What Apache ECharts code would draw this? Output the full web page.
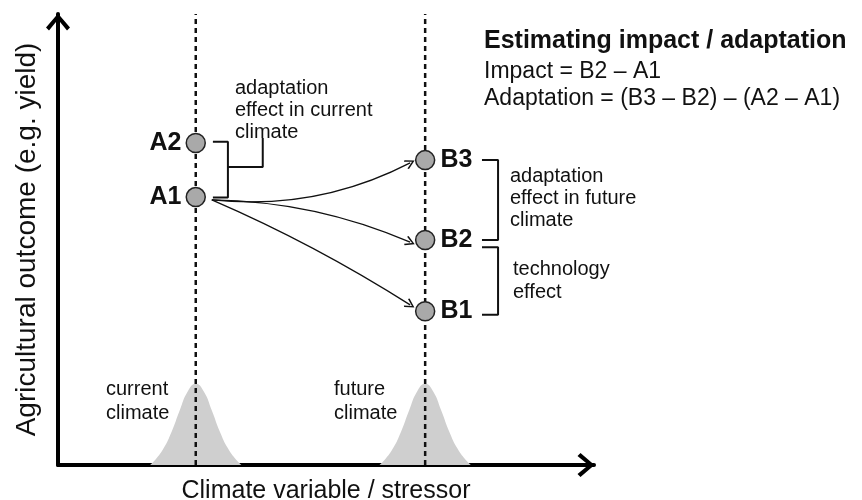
<!DOCTYPE html>
<html>
<head>
<meta charset="utf-8">
<script src="https://cdn.jsdelivr.net/npm/echarts@6/dist/echarts.min.js"></script>
<style>
  html, body { margin: 0; padding: 0; background: #fff; }
  #chart { width: 862px; height: 500px; }
</style>
</head>
<body>
<div id="chart"></div>
<script>
var FONT = '"Liberation Sans", Arial, Helvetica, sans-serif';

// where the two climates sit on the x axis
var climateX = [2.57, 6.85];

// outcome points
var pointNames = ['A2', 'A1', 'B3', 'B2', 'B1'];
var pointX = [2.57, 2.57, 6.85, 6.85, 6.85];
var pointY = [7.14, 5.94, 6.76, 4.99, 3.41];

// climate distribution (offset from centre, height)
var humpOffset = [-0.85, -0.75, -0.6, -0.45, -0.3, -0.15, 0, 0.15, 0.3, 0.45, 0.6, 0.75, 0.85];
var humpHeight = [0, 0.12, 0.37, 0.74, 1.21, 1.63, 1.8, 1.63, 1.21, 0.74, 0.37, 0.12, 0];

// arrows A1 -> B3, B2, B1
var arrowStart = [2.87, 5.88];
var arrowEnds = [[6.57, 6.70], [6.57, 4.94], [6.57, 3.55]];
var arrowCurve = [-0.15, 0.1, 0.04];

// brackets
var bracketA = [[2.89, 7.17], [3.17, 7.17], [3.17, 5.93], [2.89, 5.93]];
var bracketAStem = [[3.17, 6.61], [3.82, 6.61], [3.82, 7.25]];
var bracketBUp = [[7.91, 6.76], [8.21, 6.76], [8.21, 4.99], [7.91, 4.99]];
var bracketBLow = [[7.91, 4.83], [8.21, 4.83], [8.21, 3.33], [7.91, 3.33]];

var chevronBig = 'path://M12,0 L24,14 L21,17 L12,6 L3,17 L0,14 Z';
var chevronSmall = 'path://M5,0 L10,8 L8.8,9 L5,2.6 L1.2,9 L0,8 Z';

var series = [];

// humps first so the dashed lines sit on top
climateX.forEach(function (cx) {
    series.push({
        type: 'line',
        data: humpOffset.map(function (d, i) { return [cx + d, humpHeight[i]]; }),
        smooth: true,
        symbol: 'none',
        lineStyle: { width: 0 },
        areaStyle: { color: '#cfcfcf', opacity: 1 },
        silent: true
    });
});

climateX.forEach(function (cx) {
    series.push({
        type: 'line',
        data: [[cx, 0], [cx, 10]],
        symbol: 'none',
        lineStyle: { color: '#111', width: 2.5, type: [5, 4] },
        silent: true
    });
});

[bracketA, bracketAStem, bracketBUp, bracketBLow].forEach(function (b) {
    series.push({
        type: 'line',
        data: b,
        symbol: 'none',
        lineStyle: { color: '#111', width: 2 },
        silent: true
    });
});

series.push({
    type: 'lines',
    coordinateSystem: 'cartesian2d',
    symbol: ['none', chevronSmall],
    symbolSize: 10,
    lineStyle: { color: '#111', width: 1.3, opacity: 1 },
    data: arrowEnds.map(function (e, i) {
        return { coords: [arrowStart, e], lineStyle: { curveness: arrowCurve[i] } };
    }),
    silent: true,
    z: 3
});

series.push({
    type: 'scatter',
    symbolSize: 19,
    itemStyle: { color: '#a9a9a9', borderColor: '#222', borderWidth: 1.5, opacity: 1 },
    data: pointNames.map(function (n, i) {
        return {
            name: n,
            value: [pointX[i], pointY[i]],
            label: { position: n.charAt(0) === 'A' ? 'left' : 'right', distance: n.charAt(0) === 'A' ? 4 : 5 }
        };
    }),
    label: {
        show: true,
        formatter: '{b}',
        fontFamily: FONT,
        fontWeight: 'bold',
        fontSize: 25,
        color: '#111'
    },
    silent: true,
    z: 4
});

function txt(x, y, text, size, bold, lh) {
    return {
        type: 'text',
        x: x,
        y: y - lh / 2 + 1.5,
        silent: true,
        style: {
            text: text,
            fontFamily: FONT,
            fontSize: size,
            fontWeight: bold ? 'bold' : 'normal',
            lineHeight: lh,
            fill: '#111',
            verticalAlign: 'top'
        }
    };
}

var option = {
    animation: false,
    grid: { left: 58, right: 268, top: 14, bottom: 35, outerBoundsMode: 'none' },
    xAxis: {
        type: 'value', min: 0, max: 10,
        name: 'Climate variable / stressor',
        nameLocation: 'middle',
        nameGap: 14,
        nameTextStyle: { fontFamily: FONT, fontSize: 25, color: '#111' },
        axisLine: {
            show: true, onZero: false,
            symbol: ['none', chevronBig], symbolSize: [24, 18], symbolOffset: [0, -8],
            lineStyle: { color: '#000', width: 4 }
        },
        axisTick: { show: false }, axisLabel: { show: false }, splitLine: { show: false }
    },
    yAxis: {
        type: 'value', min: 0, max: 10,
        name: 'Agricultural outcome (e.g. yield)',
        nameLocation: 'middle',
        nameGap: 17,
        nameTextStyle: { fontFamily: FONT, fontSize: 28, color: '#111' },
        axisLine: {
            show: true, onZero: false,
            symbol: ['none', chevronBig], symbolSize: [24, 18], symbolOffset: [0, -8],
            lineStyle: { color: '#000', width: 4 }
        },
        axisTick: { show: false }, axisLabel: { show: false }, splitLine: { show: false }
    },
    graphic: [
        txt(484, 40, 'Estimating impact / adaptation', 25, true, 28),
        txt(484, 70, 'Impact = B2 \u2013 A1', 23, false, 26),
        txt(484, 97, 'Adaptation = (B3 \u2013 B2) \u2013 (A2 \u2013 A1)', 23, false, 26),
        txt(235, 87, 'adaptation\neffect in current\nclimate', 20, false, 22),
        txt(510, 175, 'adaptation\neffect in future\nclimate', 20, false, 22),
        txt(513, 268, 'technology\neffect', 20, false, 23),
        txt(106, 388, 'current\nclimate', 20, false, 24),
        txt(334, 388, 'future\nclimate', 20, false, 24)
    ],
    series: series
};

var myChart = echarts.init(document.getElementById('chart'));
myChart.setOption(option);
</script>
</body>
</html>
